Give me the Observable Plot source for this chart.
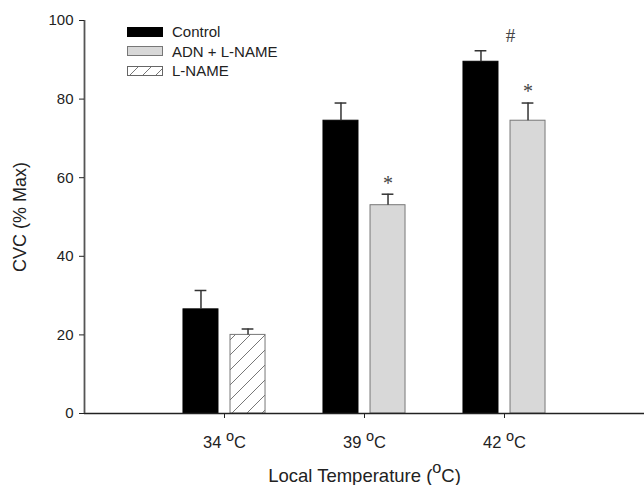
<!DOCTYPE html>
<html><head><meta charset="utf-8">
<script src="https://cdn.jsdelivr.net/npm/d3@7"></script>
<script src="https://cdn.jsdelivr.net/npm/@observablehq/plot@0.6"></script>
<style>
body{margin:0;background:#fff;font-family:"Liberation Sans",Arial,sans-serif;}
#wrap{position:relative;width:644px;height:485px;}
#legend{position:absolute;left:127px;top:22px;font-size:15px;color:#222;}
.row{display:flex;align-items:center;height:19.5px;}
.sw{width:34px;height:8px;margin-right:9px;border:1px solid #666;box-sizing:content-box;line-height:0;}
g[aria-label="y-axis tick label"] text{font-size:15px !important;}
g[aria-label="x-axis tick label"] text{font-size:16.5px !important;}
</style></head><body>
<svg width="0" height="0" style="position:absolute"><defs>
<pattern id="hatch" patternUnits="userSpaceOnUse" width="15" height="15">
<path d="M0,15 L15,0 M-4,4 L4,-4 M11,19 L19,11" stroke="#777" stroke-width="1"/>
</pattern>
<pattern id="hatchSmall" patternUnits="userSpaceOnUse" width="13" height="10">
<path d="M0,10 L10,0 M13,10 L23,0 M-13,10 L-3,0" stroke="#777" stroke-width="1"/>
</pattern></defs></svg>
<div id="wrap"><div id="legend"></div></div>
<script>
// categories
const temps = ["34", "39", "42"];
const seriesNames = ["Control", "ADN + L-NAME", "L-NAME"];
// Control bars (mean, SEM)
const controlMean = [26.5, 74.5, 89.5];
const controlSem = [4.8, 4.5, 2.8];
// second bar in each group
const treatSeries = ["L-NAME", "ADN + L-NAME", "ADN + L-NAME"];
const treatMean = [20.0, 53.0, 74.5];
const treatSem = [1.5, 2.8, 4.5];
// significance symbols
const symTemp = ["39", "42", "42"];
const symSlot = ["treat", "treat", "control"];
const symText = ["*", "*", "#"];
const symY = [58.5, 82, 96];
const yTicks = [0, 20, 40, 60, 80, 100];

const fills = {"Control": "#000", "ADN + L-NAME": "#d8d8d8", "L-NAME": "url(#hatch)"};
const strokes = {"Control": "#000", "ADN + L-NAME": "#777", "L-NAME": "#777"};

const bars = [];
temps.forEach((t, i) => {
  bars.push({temp: t, slot: -1, series: "Control", value: controlMean[i], err: controlMean[i] + controlSem[i]});
  bars.push({temp: t, slot: 1, series: treatSeries[i], value: treatMean[i], err: treatMean[i] + treatSem[i]});
});
const syms = symText.map((s, i) => ({temp: symTemp[i], slot: symSlot[i] === "treat" ? 1 : -1, text: s, y: symY[i], hash: s === "#"}));

const pos = t => temps.indexOf(t) + 1;
const center = d => pos(d.temp) + d.slot * 0.168;
const half = 0.125, cap = 0.042;

const plot = Plot.plot({
  width: 644, height: 485,
  marginLeft: 84, marginRight: 0, marginTop: 20, marginBottom: 72,
  style: {fontFamily: "'Liberation Sans', Arial, sans-serif", color: "#222", background: "#fff"},
  x: {type: "linear", domain: [0, 4]},
  y: {domain: [0, 100]},
  marks: [
    ...seriesNames.map(s => Plot.rectY(bars.filter(d => d.series === s), {
      x1: d => center(d) - half, x2: d => center(d) + half, y1: 0, y2: "value",
      fill: fills[s], stroke: strokes[s], strokeWidth: 1
    })),
    Plot.ruleX(bars, {x: center, y1: "value", y2: "err", stroke: "#333", strokeWidth: 1.5}),
    Plot.ruleY(bars, {y: "err", x1: d => center(d) - cap, x2: d => center(d) + cap, stroke: "#333", strokeWidth: 1.5}),
    Plot.text(syms.filter(d => !d.hash), {x: d => center(d), y: "y", text: "text", fontFamily: "'Liberation Serif', serif", fontSize: 20, fill: "#444", lineAnchor: "middle"}),
    Plot.text(syms.filter(d => d.hash), {x: d => center(d) + 0.21, y: "y", text: "text", fontFamily: "'Liberation Serif', serif", fontSize: 19, fill: "#444", lineAnchor: "middle"}),
    Plot.ruleY([0], {stroke: "#222", strokeWidth: 1.5}),
    Plot.ruleX([0], {stroke: "#555", strokeWidth: 1.8}),
    Plot.axisY({ticks: yTicks, tickSize: 5, tickPadding: 6, label: "CVC (% Max)", labelAnchor: "center", labelArrow: "none", labelOffset: 71, fontSize: 15}),
    Plot.axisX({ticks: [1, 2, 3], tickFormat: v => temps[v - 1] + " °C", tickSize: 5, tickPadding: 18, label: "Local Temperature (°C)", labelAnchor: "center", labelArrow: "none", labelOffset: 68, fontSize: 16.5})
  ]
});
document.getElementById("wrap").prepend(plot);

// superscript "o" for degree marks
const ns = "http://www.w3.org/2000/svg";
plot.querySelectorAll("text").forEach(el => {
  const tsp = el.querySelectorAll("tspan");
  const targets = tsp.length ? Array.from(tsp) : [el];
  targets.forEach(t => {
    const s = t.textContent;
    if (s.includes("°C")) {
      const [a, b] = s.split("°C");
      t.textContent = "";
      const t1 = document.createElementNS(ns, "tspan"); t1.textContent = a;
      const t2 = document.createElementNS(ns, "tspan"); t2.textContent = "o"; t2.setAttribute("dy", "-0.5em"); t2.setAttribute("font-size", "0.88em");
      const t3 = document.createElementNS(ns, "tspan"); t3.textContent = "C" + b; t3.setAttribute("dy", "0.44em");
      t.append(t1, t2, t3);
    }
  });
});
plot.querySelectorAll("text").forEach(el => {
  const s = el.textContent;
  if (s === "Local Temperature (oC)") el.setAttribute("font-size", 18.5);
  else if (s === "CVC (% Max)") el.setAttribute("font-size", 18);
});

// legend
const lg = document.getElementById("legend");
seriesNames.forEach(s => {
  const r = document.createElement("div"); r.className = "row";
  const sw = document.createElement("div"); sw.className = "sw";
  if (s === "L-NAME") {
    sw.style.background = "#fff";
    sw.innerHTML = '<svg width="34" height="8" style="display:block"><rect width="34" height="8" fill="url(#hatchSmall)"/></svg>';
  } else {
    sw.style.background = fills[s];
    sw.style.borderColor = strokes[s];
  }
  const tx = document.createElement("span"); tx.textContent = s;
  r.append(sw, tx); lg.append(r);
});
</script>
</body></html>
